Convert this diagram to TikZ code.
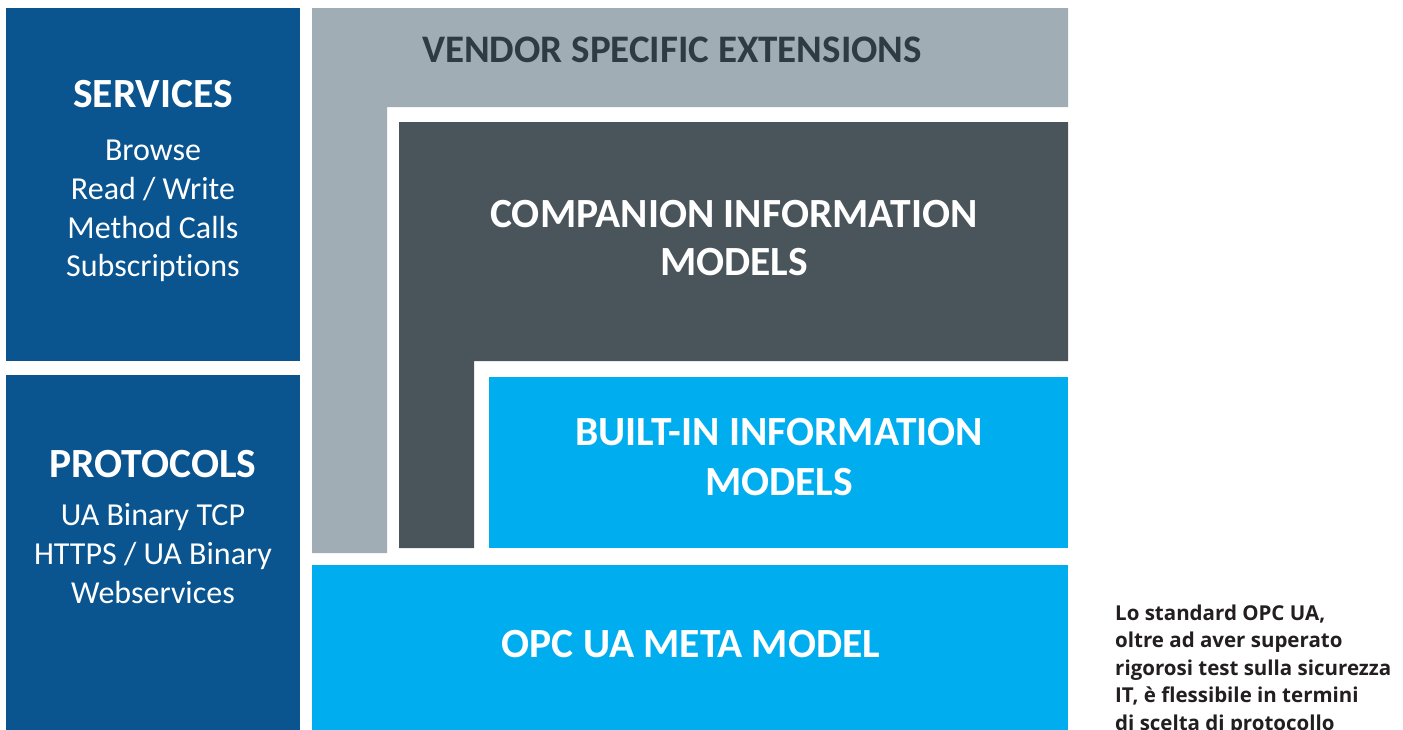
\documentclass[tikz,border=0pt]{standalone}
\usepackage{fontspec}
\setmainfont{Carlito}[Ligatures=NoCommon]
\newfontfamily\capfont{Open Sans}
\definecolor{navy}{HTML}{0A5590}
\definecolor{sky}{HTML}{00AEEF}
\definecolor{steel}{HTML}{A1ADB4}
\definecolor{slate}{HTML}{4A555B}
\definecolor{inkdark}{HTML}{2F3B42}
\definecolor{captionink}{HTML}{231F20}
\begin{document}
\begin{tikzpicture}[x=1pt,y=-1pt,
  head/.style={anchor=base,inner sep=0pt,text=white,font=\fontsize{41.5}{48}\selectfont\bfseries},
  item/.style={anchor=base,inner sep=0pt,text=white,font=\fontsize{32}{38}\selectfont},
  capline/.style={anchor=base west,inner sep=0pt,text=captionink,font=\capfont\fontsize{20.5}{24}\selectfont\bfseries}]
\useasboundingbox (0,0) rectangle (1403,729);
\clip (0,0) rectangle (1403,729);
\fill[white] (0,0) rectangle (1403,729);

% left column
\fill[navy] (6,8) rectangle (300,361);
\fill[navy] (6,375) rectangle (300,740);

% layered model
\fill[steel] (312,8) -- (1068,8) -- (1068,107) -- (387,107) -- (387,553) -- (312,553) -- cycle;
\fill[slate] (399,122) -- (1068,122) -- (1068,361) -- (474,361) -- (474,548) -- (399,548) -- cycle;
\fill[sky] (489,377) rectangle (1068,548);
\fill[sky] (312,565) rectangle (1068,740);

% services
\node[head] (svc) at (153,107) {SERVICES};
\node[item] (svc1) at (153,160) {Browse};
\node[item] (svc2) at (153,199) {Read / Write};
\node[item] (svc3) at (153,238) {Method Calls};
\node[item] (svc4) at (153,276) {Subscriptions};

% protocols
\node[head] (pro) at (153,477) {PROTOCOLS};
\node[item] (pro1) at (153,525) {UA Binary TCP};
\node[item] (pro2) at (153,564) {HTTPS / UA Binary};
\node[item] (pro3) at (153,603) {Webservices};

% layer titles
\node[head,text=inkdark,font=\fontsize{39}{46}\selectfont\bfseries] (vendor) at (672,62) {VENDOR SPECIFIC EXTENSIONS};
\node[head] (comp1) at (734,227) {COMPANION INFORMATION};
\node[head] (comp2) at (734,275) {MODELS};
\node[head] (built1) at (779,445) {BUILT-IN INFORMATION};
\node[head] (built2) at (779,495) {MODELS};
\node[head] (meta) at (691,657) {OPC UA META MODEL};

% caption
\node[capline] (cap1) at (1115,620) {Lo standard OPC UA,};
\node[capline] (cap2) at (1115,647) {oltre ad aver superato};
\node[capline] (cap3) at (1115,675) {rigorosi test sulla sicurezza};
\node[capline] (cap4) at (1115,702) {IT, è flessibile in termini};
\node[capline] (cap5) at (1115,730) {di scelta di protocollo};
\end{tikzpicture}
\end{document}
